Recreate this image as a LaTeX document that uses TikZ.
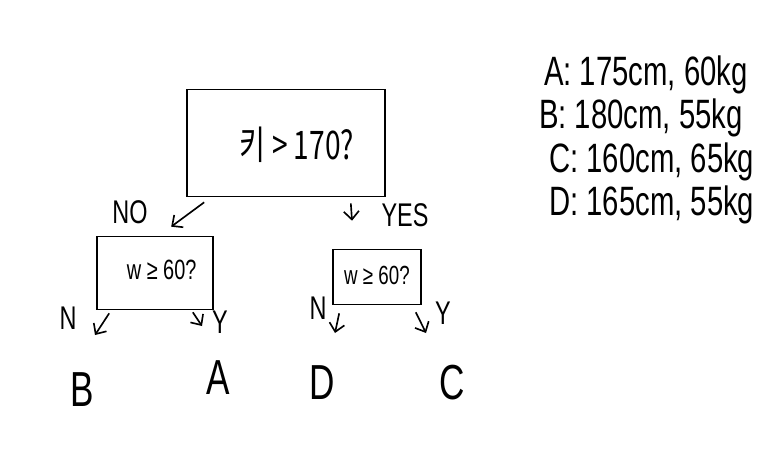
\documentclass[tikz,border=0pt]{standalone}
\usepackage{fontspec}
\setmainfont{Liberation Sans}
\newfontfamily\krfont{Noto Sans CJK KR}
\usetikzlibrary{arrows.meta}
\newcommand{\tall}[1]{\scalebox{1}[1.4]{#1}}
\tikzset{
  qbox/.style={draw, line width=1.4pt, inner sep=0pt},
  arr/.style={line width=1.4pt, -{Straight Barb[length=7pt,width=13pt]}},
  leaf/.style={font=\fontsize{30}{32}\selectfont},
  lbl/.style={font=\fontsize{20}{22}\selectfont},
  data/.style={anchor=west, font=\fontsize{25}{27}\selectfont}
}
\begin{document}
\begin{tikzpicture}
  \useasboundingbox (0,0) rectangle (23.19,-13.77);
  % Questions
  \node[qbox, minimum width=5.94cm, minimum height=3.21cm] (root) at (8.58,-4.29) {};
  \node[font=\fontsize{24}{26}\selectfont] (rq) at (8.91,-4.35) {\tall{\krfont 키 > 170?}};
  \node[qbox, minimum width=3.48cm, minimum height=2.19cm] (left) at (4.65,-8.19) {};
  \node[font=\fontsize{17}{19}\selectfont] (lq) at (4.85,-8.1) {\tall{w ≥ 60?}};
  \node[qbox, minimum width=2.64cm, minimum height=1.65cm] (right) at (11.31,-8.31) {};
  \node[font=\fontsize{16}{18}\selectfont] (rq2) at (11.31,-8.25) {\tall{w ≥ 60?}};
  % Leaves
  \node[leaf] (B) at (2.46,-11.7) {\tall{B}};
  \node[leaf] (A) at (6.54,-11.34) {\tall{A}};
  \node[leaf] (D) at (9.66,-11.49) {\tall{D}};
  \node[leaf] (C) at (13.56,-11.49) {\tall{C}};
  % Branches
  \draw[arr] ([shift={(0.54,-0.15)}]root.south west) -- ([shift={(2.25,0.27)}]left.north west);
  \draw[arr] ([shift={(-1.05,-0.18)}]root.south east) -- ([shift={(-0.75,0.84)}]right.north);
  \draw[arr] ([shift={(0.39,-0.09)}]left.south west) -- ([shift={(0.39,1.65)}]B.center);
  \draw[arr] ([shift={(-0.63,-0.06)}]left.south east) -- ([shift={(-0.48,1.56)}]A.center);
  \draw[arr] ([shift={(0.21,-0.24)}]right.south west) -- ([shift={(0.39,1.5)}]D.center);
  \draw[arr] ([shift={(-0.18,-0.21)}]right.south east) -- ([shift={(-0.78,1.5)}]C.center);
  % Branch labels
  \node[lbl] (no) at (3.9,-6.36) {\tall{NO}};
  \node[lbl] (yes) at (12.15,-6.45) {\tall{YES}};
  \node[lbl] (ln) at (2.04,-9.54) {\tall{N}};
  \node[lbl] (ly) at (6.6,-9.66) {\tall{Y}};
  \node[lbl] (rn) at (9.54,-9.24) {\tall{N}};
  \node[lbl] (ry) at (13.29,-9.39) {\tall{Y}};
  % Data
  \node[data] (da) at (16.2,-2.25) {\tall{A: 175cm, 60kg}};
  \node[data] (db) at (16.05,-3.54) {\tall{B: 180cm, 55kg}};
  \node[data] (dc) at (16.35,-4.86) {\tall{C: 160cm, 65kg}};
  \node[data] (dd) at (16.35,-6.15) {\tall{D: 165cm, 55kg}};
\end{tikzpicture}
\end{document}
